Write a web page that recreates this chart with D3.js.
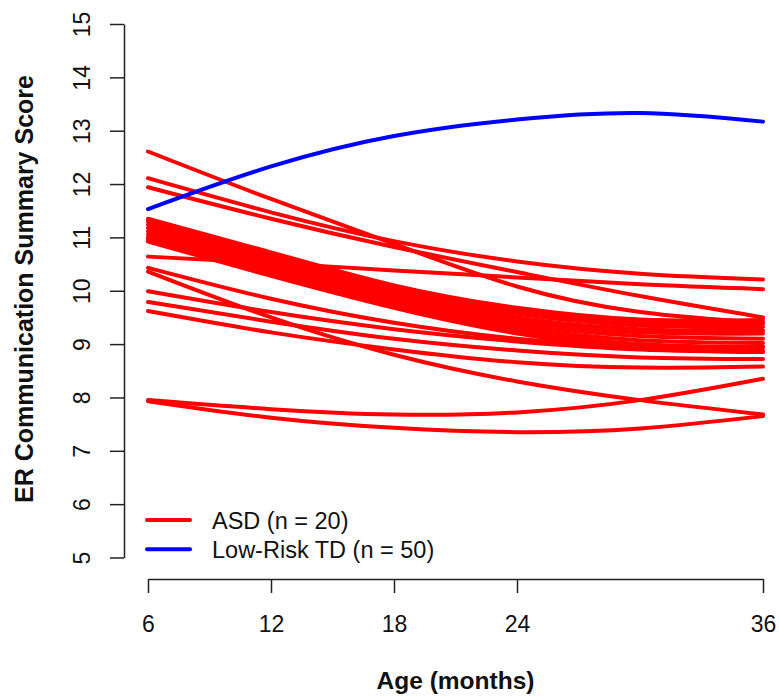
<!DOCTYPE html>
<html>
<head>
<meta charset="utf-8">
<script src="https://cdn.jsdelivr.net/npm/d3@7"></script>
<style>
  html, body { margin: 0; padding: 0; background: #fff; }
  svg { display: block; font-family: "Liberation Sans", Arial, sans-serif; }
</style>
</head>
<body>
<svg id="chart" width="779" height="696"></svg>
<script>
// ---- data ----
const ages = [6, 12, 18, 24, 30, 36];
const xTicks = [6, 12, 18, 24, 36];
const yTicks = [5, 6, 7, 8, 9, 10, 11, 12, 13, 14, 15];
const asdCurves = [
  [12.61, 11.72, 10.88, 10.08, 9.60, 9.40],
  [12.11, 11.47, 10.93, 10.55, 10.32, 10.21],
  [11.94, 11.35, 10.82, 10.35, 9.90, 9.50],
  [10.64, 10.52, 10.38, 10.25, 10.12, 10.03],
  [11.35, 10.72, 10.10, 9.68, 9.46, 9.45],
  [11.30, 10.66, 10.05, 9.62, 9.40, 9.38],
  [11.24, 10.60, 10.00, 9.57, 9.35, 9.32],
  [11.18, 10.54, 9.94, 9.50, 9.28, 9.25],
  [11.12, 10.48, 9.88, 9.44, 9.22, 9.20],
  [11.06, 10.42, 9.83, 9.38, 9.15, 9.10],
  [11.00, 10.37, 9.78, 9.32, 9.07, 9.02],
  [10.96, 10.32, 9.73, 9.26, 9.00, 8.94],
  [10.92, 10.28, 9.68, 9.20, 8.94, 8.88],
  [10.43, 9.85, 9.40, 9.10, 8.95, 8.95],
  [10.36, 9.50, 8.80, 8.30, 7.95, 7.68],
  [9.99, 9.60, 9.28, 9.05, 8.90, 8.85],
  [9.79, 9.42, 9.10, 8.88, 8.75, 8.72],
  [9.62, 9.22, 8.90, 8.66, 8.56, 8.58],
  [7.95, 7.78, 7.68, 7.72, 7.95, 8.35],
  [7.93, 7.62, 7.43, 7.35, 7.42, 7.65]
];
const tdCurve = [11.53, 12.33, 12.90, 13.21, 13.33, 13.17];
const legendLabels = ["ASD (n = 20)", "Low-Risk TD (n = 50)"];
const legendColors = ["#FF0000", "#0000FF"];
const xTitle = "Age (months)";
const yTitle = "ER Communication Summary Score";

// ---- chart ----
const svg = d3.select("#chart");
const x = d3.scaleLinear().domain([6, 36]).range([148, 763]);
const y = d3.scaleLinear().domain([5, 15]).range([557.5, 24]);

const line = d3.line()
  .x((d, i) => x(ages[i]))
  .y(d => y(d))
  .curve(d3.curveNatural);

svg.append("g").selectAll("path.asd")
  .data(asdCurves)
  .join("path")
  .attr("class", "asd")
  .attr("d", line)
  .attr("fill", "none")
  .attr("stroke", legendColors[0])
  .attr("stroke-width", 4)
  .attr("stroke-linecap", "round");

svg.append("path")
  .datum(tdCurve)
  .attr("d", line)
  .attr("fill", "none")
  .attr("stroke", legendColors[1])
  .attr("stroke-width", 4)
  .attr("stroke-linecap", "round");

// y axis
const yAxis = svg.append("g")
  .attr("transform", "translate(124,0)")
  .call(d3.axisLeft(y).tickValues(yTicks).tickSize(14).tickSizeOuter(0).tickFormat(d3.format("d")));
yAxis.select(".domain").attr("stroke", "#222").attr("stroke-width", 1.5);
yAxis.selectAll(".tick line").attr("stroke", "#222").attr("stroke-width", 1.5);
yAxis.selectAll(".tick text")
  .attr("x", null).attr("dy", null)
  .attr("transform", "translate(-34,0) rotate(-90)")
  .attr("text-anchor", "middle")
  .attr("fill", "#111")
  .style("font-size", "23px")
  .style("font-family", "'Liberation Sans', Arial, sans-serif");

// x axis
const xAxis = svg.append("g")
  .attr("transform", "translate(0,579)")
  .call(d3.axisBottom(x).tickValues(xTicks).tickSize(14).tickSizeOuter(0).tickFormat(d3.format("d")));
xAxis.select(".domain").attr("stroke", "#222").attr("stroke-width", 1.5);
xAxis.selectAll(".tick line").attr("stroke", "#222").attr("stroke-width", 1.5);
xAxis.selectAll(".tick text")
  .attr("y", 53).attr("dy", null)
  .attr("fill", "#111")
  .style("font-size", "23px")
  .style("font-family", "'Liberation Sans', Arial, sans-serif");

// titles
svg.append("text")
  .attr("x", 455.5).attr("y", 689)
  .attr("text-anchor", "middle")
  .attr("font-weight", "bold")
  .attr("font-size", 24.5)
  .attr("fill", "#111")
  .text(xTitle);

svg.append("text")
  .attr("transform", "translate(33,289) rotate(-90)")
  .attr("text-anchor", "middle")
  .attr("font-weight", "bold")
  .attr("font-size", 25)
  .attr("fill", "#111")
  .text(yTitle);

// legend
const leg = svg.append("g");
legendLabels.forEach((lab, i) => {
  const ly = 520 + i * 29.3;
  leg.append("line")
    .attr("x1", 147).attr("x2", 190)
    .attr("y1", ly).attr("y2", ly)
    .attr("stroke", legendColors[i])
    .attr("stroke-width", 4)
    .attr("stroke-linecap", "round");
  leg.append("text")
    .attr("x", 212).attr("y", ly + 8.5)
    .attr("font-size", 23.5)
    .attr("fill", "#111")
    .text(lab);
});
</script>
</body>
</html>
